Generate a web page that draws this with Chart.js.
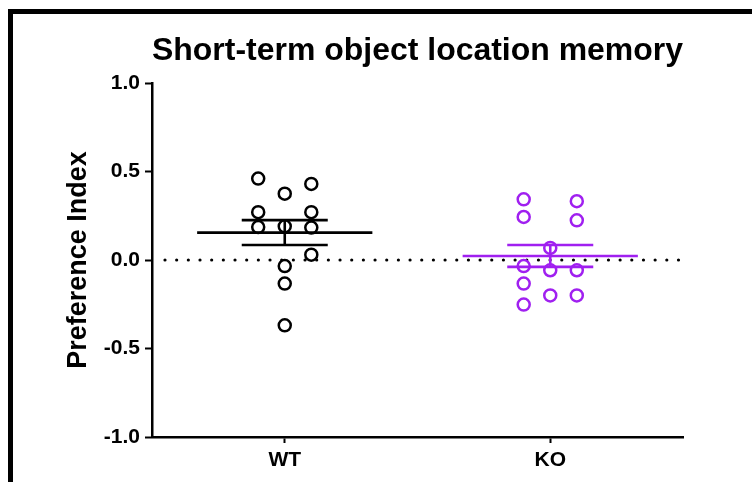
<!DOCTYPE html>
<html>
<head>
<meta charset="utf-8">
<script src="https://cdn.jsdelivr.net/npm/chart.js@4"></script>
<style>
  html, body { margin: 0; padding: 0; background: #fff; overflow: hidden; }
  #frame {
    position: absolute; left: 8px; top: 9px; width: 900px; height: 600px;
    border-left: 5px solid #000; border-top: 5px solid #000;
  }
  #wrap { position: absolute; left: 0; top: 0; width: 752px; height: 482px; }
</style>
</head>
<body>
<div id="frame"></div>
<div id="wrap"><canvas id="olmChart" width="752" height="482"></canvas></div>
<script>
// groups and preference index per animal
var groups = ['WT', 'KO']
var wtValues = [0.46, 0.43, 0.375, 0.27, 0.27, 0.186, 0.19, 0.183, 0.03, -0.034, -0.133, -0.369]
var wtColumns = [-1, 1, 0, -1, 1, -1, 0, 1, 1, 0, 0, 0]
var koValues = [0.343, 0.332, 0.243, 0.224, 0.068, -0.034, -0.058, -0.058, -0.133, -0.2, -0.2, -0.252]
var koColumns = [-1, 1, -1, 1, 0, -1, 0, 1, -1, 0, 1, -1]
var yTicks = [-1.0, -0.5, 0.0, 0.5, 1.0]

var colors = ['#000000', '#A020F0']
var fontFamily = '"Liberation Sans", Arial, Helvetica, sans-serif'

function mean(arr) {
  return arr.reduce((a, b) => a + b, 0) / arr.length
}

function sem(arr) {
  var m = mean(arr)
  var ss = arr.reduce((a, b) => a + (b - m) * (b - m), 0)
  return Math.sqrt(ss / (arr.length - 1)) / Math.sqrt(arr.length)
}

// horizontal segment centered on a group
function segment(cx, half, y) {
  return [{x: cx - half, y: y}, {x: cx + half, y: y}]
}

var datasets = []
var series = [[wtValues, wtColumns], [koValues, koColumns]]

series.forEach((s, i) => {
  var vals = s[0], cols = s[1]
  var m = mean(vals), e = sem(vals)
  var lineStyle = {
    type: 'line', showLine: true, pointRadius: 0, borderColor: colors[i],
    borderWidth: 2.6, fill: false, order: 1
  }
  datasets.push(Object.assign({}, lineStyle, {data: segment(i, 0.33, m)}))
  datasets.push(Object.assign({}, lineStyle, {data: segment(i, 0.162, m + e)}))
  datasets.push(Object.assign({}, lineStyle, {data: segment(i, 0.162, m - e)}))
  datasets.push(Object.assign({}, lineStyle, {data: [{x: i, y: m - e}, {x: i, y: m + e}]}))
  datasets.push({
    type: 'scatter',
    label: groups[i],
    data: vals.map((v, j) => ({x: i + cols[j] * 0.1, y: v})),
    pointStyle: 'circle',
    pointRadius: 6,
    pointBorderWidth: 2.5,
    borderColor: colors[i],
    backgroundColor: 'rgba(0,0,0,0)',
    order: 0
  })
})

// dotted reference line at zero
var zeroLine = {
  id: 'zeroLine',
  beforeDatasetsDraw(chart) {
    var ctx = chart.ctx
    var area = chart.chartArea
    var y0 = chart.scales.y.getPixelForValue(0)
    ctx.save()
    ctx.setLineDash([0, 11.67])
    ctx.lineCap = 'round'
    ctx.lineWidth = 3.2
    ctx.strokeStyle = '#000'
    ctx.beginPath()
    ctx.moveTo(area.left + 13, y0)
    ctx.lineTo(area.right - 2, y0)
    ctx.stroke()
    ctx.restore()
  }
}

var ctx = document.getElementById('olmChart').getContext('2d')
var chart = new Chart(ctx, {
  type: 'scatter',
  data: {datasets: datasets},
  plugins: [zeroLine],
  options: {
    responsive: false,
    animation: false,
    devicePixelRatio: 1,
    layout: {padding: {left: 0, right: 69, top: 0, bottom: 0}},
    plugins: {
      legend: {display: false},
      tooltip: {enabled: false},
      title: {
        display: true,
        text: 'Short-term object location memory',
        fullSize: false,
        color: '#000',
        font: {family: fontFamily, size: 32, weight: 'bold'},
        padding: {top: 32, bottom: 12.6}
      }
    },
    scales: {
      x: {
        type: 'linear',
        min: -0.5,
        max: 1.5,
        afterFit: (scale) => { scale.height = 45 },
        afterBuildTicks: (scale) => { scale.ticks = groups.map((g, i) => ({value: i})) },
        grid: {drawOnChartArea: false, drawTicks: true, tickLength: 6, tickWidth: 2, tickColor: '#000'},
        border: {display: true, color: '#000', width: 2.5},
        ticks: {
          color: '#000',
          padding: 5,
          maxRotation: 0,
          font: {family: fontFamily, size: 21, weight: 'bold'},
          callback: (v) => groups[v]
        }
      },
      y: {
        min: -1,
        max: 1,
        afterFit: (scale) => { scale.width = 152 },
        afterBuildTicks: (scale) => { scale.ticks = yTicks.map(v => ({value: v})) },
        grid: {drawOnChartArea: false, drawTicks: true, tickLength: 7, tickWidth: 2, tickColor: '#000'},
        border: {display: true, color: '#000', width: 2.5},
        title: {
          display: true,
          text: 'Preference Index',
          color: '#000',
          font: {family: fontFamily, size: 27, weight: 'bold'},
          padding: {top: 62, bottom: 0}
        },
        ticks: {
          color: '#000',
          padding: 5,
          font: {family: fontFamily, size: 21, weight: 'bold'},
          callback: (v) => v.toFixed(1)
        }
      }
    }
  }
})
</script>
</body>
</html>
